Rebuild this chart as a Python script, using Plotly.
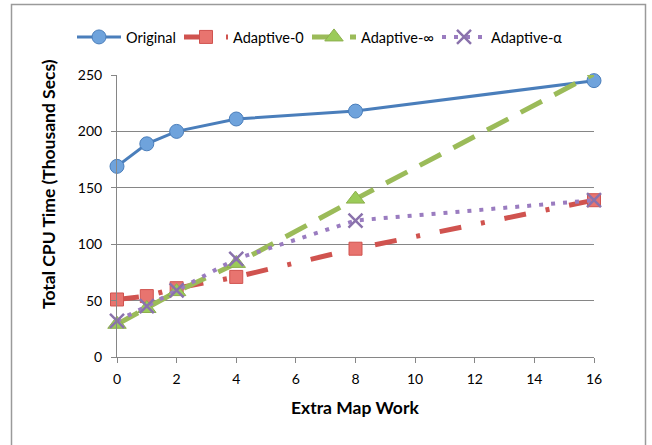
import plotly.graph_objects as go

x_work = [0, 1, 2, 4, 8, 16]
original = [169, 189, 200, 211, 218, 245]
adaptive_0 = [51, 54, 61, 71, 96, 139]
adaptive_inf = [29, 43, 58, 83, 140, 251]
adaptive_alpha = [32, 45, 59, 87, 121, 139]
x_ticks = [0, 2, 4, 6, 8, 10, 12, 14, 16]
y_ticks = [0, 50, 100, 150, 200, 250]

FONT = "Lato"

# page-pixel geometry (body margin removed below)
W, H = 652, 445
PX0, PX1, PY0, PY1 = 117, 594, 75, 357  # plot area on page
L, T = PX0, PY0
R = W - PX1
B = H - PY1
pw, ph = PX1 - PX0, PY1 - PY0


def px(xp):
    return (xp - PX0) / pw


def py(yp):
    return (PY1 - yp) / ph


fig = go.Figure()
fig.add_trace(go.Scatter(
    x=x_work, y=original, name="Original", mode="lines+markers", legend="legend",
    line=dict(color="#4A7EBB", width=3),
    marker=dict(symbol="circle", size=14, color="#6FA3DC", line=dict(color="#4A7EBB", width=1)),
    cliponaxis=False))
fig.add_trace(go.Scatter(
    x=x_work, y=adaptive_0, name="Adaptive-0", mode="lines+markers", legend="legend2",
    line=dict(color="#D0534F", width=5, dash="22px,20px,4px,20px"),
    marker=dict(symbol="square", size=13, color="#E8746F", line=dict(color="#D0534F", width=1)),
    cliponaxis=False))
fig.add_trace(go.Scatter(
    x=x_work, y=adaptive_inf, name="Adaptive-∞", mode="lines+markers", legend="legend3",
    line=dict(color="#9BBB59", width=5, dash="24px,14px"),
    marker=dict(symbol="triangle-up", size=16, color="#9BCB59", line=dict(color="#8DAF4E", width=1)),
    cliponaxis=False))
fig.add_trace(go.Scatter(
    x=x_work, y=adaptive_alpha, name="Adaptive-α", mode="lines+markers", legend="legend4",
    line=dict(color="#9A7CC0", width=4, dash="4px,8px"),
    marker=dict(symbol="x-thin", size=14, color="#8A72AC", line=dict(color="#8A72AC", width=2.5)),
    cliponaxis=False))


def leg(x_page):
    return dict(orientation="h", x=px(x_page - 8), xanchor="left",
                y=py(37), yanchor="middle", itemwidth=44,
                font=dict(family=FONT, size=14.5), bgcolor="rgba(0,0,0,0)")


fig.update_layout(
    width=W, height=H,
    margin=dict(l=L, r=R, t=T, b=B),
    paper_bgcolor="white", plot_bgcolor="white",
    font=dict(family=FONT, size=14, color="#000000"),
    showlegend=True,
    legend=leg(80), legend2=leg(187), legend3=leg(315), legend4=leg(445),
    xaxis=dict(range=[0, 16], tickvals=x_ticks, showgrid=False,
               showline=True, linecolor="#868686", linewidth=1,
               ticks="outside", ticklen=5, tickcolor="#868686",
               tickfont=dict(family=FONT, size=14), ticklabelstandoff=4,
               zeroline=False, fixedrange=True),
    yaxis=dict(range=[0, 250], tickvals=y_ticks, showgrid=True, gridcolor="#868686", gridwidth=1,
               showline=True, linecolor="#868686", linewidth=1,
               ticks="outside", ticklen=5, tickcolor="#868686",
               tickfont=dict(family=FONT, size=14), ticklabelstandoff=6,
               zeroline=False, fixedrange=True),
    annotations=[
        dict(text="<b>Extra Map Work</b>", xref="paper", yref="paper",
             x=px(355), y=py(407), showarrow=False, xanchor="center", yanchor="middle",
             font=dict(family=FONT, size=17.5)),
        dict(text="<b>Total CPU Time (Thousand Secs)</b>", xref="paper", yref="paper",
             x=px(48), y=py(184), showarrow=False, xanchor="center", yanchor="middle",
             textangle=-90, font=dict(family=FONT, size=17.5)),
    ],
    shapes=[dict(type="rect", xref="paper", yref="paper",
                 x0=px(11.5), x1=px(645.5), y0=py(447), y1=py(4.5),
                 line=dict(color="#9A9A9A", width=1.5), fillcolor="rgba(0,0,0,0)", layer="above")],
)

fig.write_html("out.html", config={"displayModeBar": False},
               post_script="document.body.style.margin='0';document.body.style.overflow='hidden';")
